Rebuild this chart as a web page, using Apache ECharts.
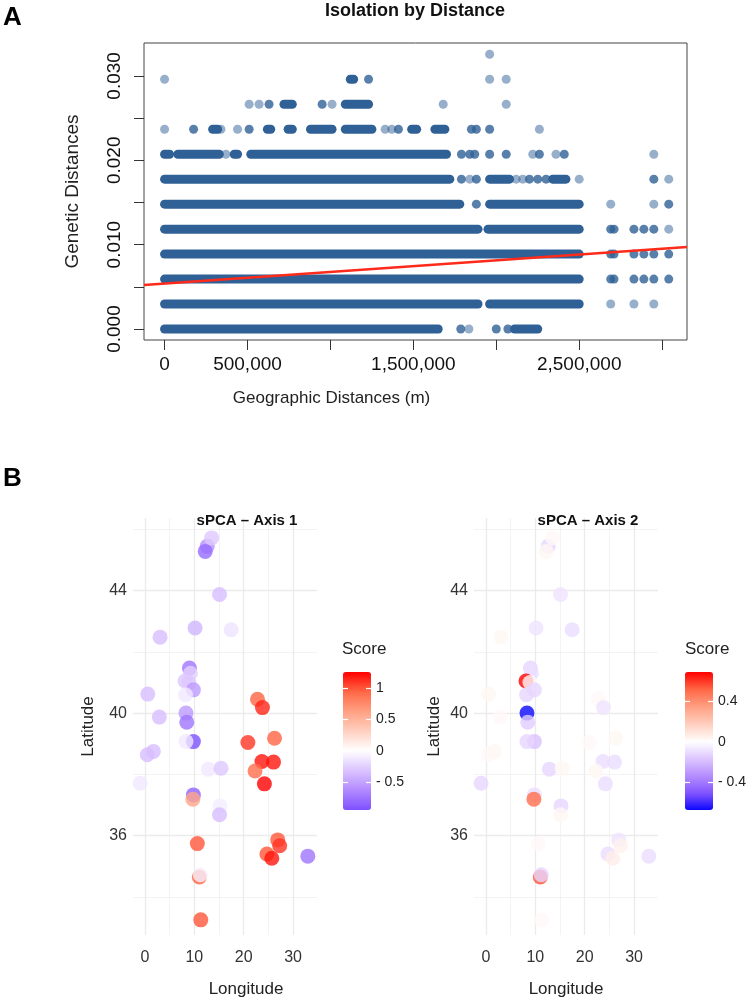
<!DOCTYPE html>
<html>
<head>
<meta charset="utf-8">
<title>Isolation by Distance / sPCA</title>
<script src="https://cdn.jsdelivr.net/npm/echarts@6/dist/echarts.min.js"></script>
<style>
  html, body { margin: 0; padding: 0; background: #fff; }
  #chart { width: 749px; height: 1003px; }
</style>
</head>
<body>
<div id="chart"></div>
<script>
// ---------- A : isolation by distance ----------
// genetic distance takes discrete values (one row per level)
var geneticLevels = [0, 0.00296, 0.00592, 0.00888, 0.01184, 0.0148, 0.01776,
                     0.02072, 0.02368, 0.02664, 0.0296, 0.03256];
// geographic distances below are in millions of metres
// dense stretches of overlapping points: [level, from, to]
var denseRuns = [
  [0, 0, 1.65], [0, 2.11, 2.25],
  [1, 0, 1.89], [1, 1.96, 2.50],
  [2, 0, 2.50],
  [3, 0, 2.50],
  [4, 0, 1.89], [4, 1.95, 2.50],
  [5, 0, 1.78], [5, 1.96, 2.50],
  [6, 0, 1.72], [6, 1.96, 2.08], [6, 2.34, 2.42],
  [7, 0, 0.03], [7, 0.08, 0.33], [7, 0.42, 0.44], [7, 0.52, 1.70],
  [8, 0.29, 0.32], [8, 0.62, 0.64], [8, 0.745, 0.77], [8, 0.88, 1.01],
  [8, 1.09, 1.25], [8, 1.49, 1.52], [8, 1.63, 1.69],
  [9, 0.72, 0.77], [9, 1.09, 1.23],
  [10, 1.12, 1.14]
];
// single opaque points: [distance, level]
var solidPoints = [
  [1.786, 0], [2.0, 0], [2.07, 0],
  [2.69, 2], [2.71, 2], [2.83, 2], [2.89, 2], [2.95, 2], [3.04, 2],
  [2.69, 3], [2.71, 3], [2.83, 3], [2.89, 3], [2.95, 3], [3.04, 3],
  [2.69, 4], [2.71, 4], [2.83, 4], [2.89, 4], [2.95, 4],
  [1.88, 5], [3.04, 5],
  [1.79, 6], [1.88, 6], [2.20, 6], [2.25, 6], [2.30, 6], [2.95, 6],
  [1.79, 7], [1.84, 7], [1.87, 7], [1.96, 7], [2.06, 7], [2.26, 7], [2.41, 7],
  [0.175, 8], [0.51, 8], [1.41, 8], [1.85, 8], [1.88, 8], [1.96, 8],
  [0.63, 9], [0.95, 9],
  [1.23, 10]
];
// single faint (semi transparent) points: [distance, level]
var faintPoints = [
  [1.835, 0],
  [2.69, 1], [2.83, 1], [2.95, 1],
  [3.04, 4],
  [2.69, 5], [2.95, 5],
  [1.84, 6], [2.12, 6], [2.16, 6], [2.50, 6], [3.04, 6],
  [0.37, 7], [2.22, 7], [2.36, 7], [2.95, 7],
  [0, 8], [0.34, 8], [0.44, 8], [1.33, 8], [1.37, 8], [2.26, 8],
  [0.51, 9], [0.57, 9], [1.01, 9], [1.68, 9], [2.06, 9],
  [0, 10], [1.96, 10], [2.06, 10],
  [1.96, 11]
];
// regression line end points [distance, genetic distance]
var fitLine = [[-0.124, 0.00521], [3.15, 0.00971]];
var distanceTicks = [0, 500000, 1000000, 1500000, 2000000, 2500000, 3000000];
var distanceLabels = [0, 500000, 1500000, 2500000];
var geneticTicks = [0, 0.005, 0.01, 0.015, 0.02, 0.025, 0.03];
var geneticLabels = [0, 0.01, 0.02, 0.03];

// ---------- B : sPCA scores per sampling site ----------
var siteLon = [12.6, 12.2, 13.5, 15.1, 10.15, 3.05, 17.46, 9.0, 9.2, 8.1,
               8.9, 9.8, 8.2, 0.55, 22.8, 23.8, 8.3, 8.46, 2.9, 9.8,
               8.3, 20.85, 26.25, 0.47, 1.7, 23.7, 26.05, 22.3, 24.2, -1.0,
               12.85, 15.4, 9.8, 9.7, 15.2, 15.1, 10.6, 11.0, 11.2, 11.3,
               26.9, 27.3, 24.7, 25.7, 33.0];
var siteLat = [45.45, 45.28, 45.72, 43.87, 42.78, 42.48, 42.72, 41.47, 41.3, 41.05,
               41.0, 40.76, 40.6, 40.62, 40.45, 40.18, 40.0, 39.7, 39.87, 39.07,
               39.07, 39.04, 39.18, 38.64, 38.75, 38.42, 38.4, 38.11, 37.69, 37.71,
               38.17, 38.2, 37.33, 37.19, 36.97, 36.68, 35.74, 34.65, 34.72, 33.25,
               35.86, 35.67, 35.40, 35.26, 35.33];
var axis1Score = [-0.60, -0.80, -0.30, -0.35, -0.40, -0.35, -0.15, -0.75, -0.25, -0.30,
                  -0.30, -0.55, -0.12, -0.35, 0.95, 1.15, -0.55, -0.75, -0.35, -0.95,
                  -0.12, 1.10, 0.95, -0.35, -0.35, 1.20, 1.20, 0.90, 1.26, -0.12,
                  -0.12, -0.30, -0.85, 0.60, -0.10, -0.35, 1.00, 0.95, -0.08, 1.00,
                  1.00, 1.10, 1.00, 1.20, -0.75];
var axis2Score = [-0.12, 0.03, 0.02, -0.08, -0.08, 0.03, -0.10, -0.12, -0.10, 0.69,
                  0.02, -0.12, -0.12, 0.03, 0.02, -0.08, -0.675, -0.15, 0.02, -0.18,
                  -0.12, 0.02, 0.03, 0.02, 0.03, -0.10, -0.10, 0.03, -0.10, -0.12,
                  -0.12, 0.03, -0.10, 0.50, -0.12, 0.03, 0.02, 0.55, -0.12, 0.02,
                  -0.08, 0.05, -0.10, 0.06, -0.10];
var lonMajor = [0, 10, 20, 30];
var lonMinor = [5, 15, 25];
var latMajor = [36, 40, 44];
var latMinor = [34, 38, 42, 46];
var score1Labels = [-0.5, 0, 0.5, 1];
var score2Labels = [-0.4, 0, 0.4];

// ---------- helpers ----------
var M = 1e6;
var BLUE_DOT = '#2F6096';
var FONT = 'Liberation Sans, Arial, sans-serif';

// blue - white - red diverging ramp, sampled in Lab space
var divergingStops = ['#0000FF', '#7E51FF', '#B38BFF', '#DCC4FF', '#FFFFFF',
                      '#FFCFBF', '#FFA083', '#FF6846', '#FF0000'];
function hexRgb(h) {
  return [parseInt(h.substr(1, 2), 16), parseInt(h.substr(3, 2), 16), parseInt(h.substr(5, 2), 16)];
}
function toHex(c) {
  return '#' + c.map(function (x) { var s = Math.round(x).toString(16); return s.length < 2 ? '0' + s : s; }).join('');
}
function divergingColor(v, lim) {
  var t = (Math.max(-1, Math.min(1, v / lim)) + 1) * 4;
  var i = Math.min(7, Math.floor(t)), f = t - i;
  var a = hexRgb(divergingStops[i]), b = hexRgb(divergingStops[i + 1]);
  return toHex([0, 1, 2].map(function (k) { return a[k] + (b[k] - a[k]) * f; }));
}
function ramp(min, max) {
  var lim = Math.max(-min, max), out = [];
  for (var k = 0; k <= 30; k++) out.push(divergingColor(min + (max - min) * k / 30, lim));
  return out;
}
function thousands(v) { return String(v).replace(/\B(?=(\d{3})+(?!\d))/g, ','); }
function scoreText(v) { return v < 0 ? '- ' + (-v) : String(v); }

var runData = denseRuns.map(function (r) { return [r[1] * M, r[2] * M, geneticLevels[r[0]]]; });
var solidData = solidPoints.map(function (p) { return [p[0] * M, geneticLevels[p[1]]]; });
var faintData = faintPoints.map(function (p) { return [p[0] * M, geneticLevels[p[1]]]; });
var fitData = fitLine.map(function (p) { return [p[0] * M, p[1]]; });

var map1Data = siteLon.map(function (lon, i) { return [lon, siteLat[i], axis1Score[i]]; });
var map2Data = siteLon.map(function (lon, i) { return [lon, siteLat[i], axis2Score[i]]; });
var s1Min = Math.min.apply(null, axis1Score), s1Max = Math.max.apply(null, axis1Score);
var s2Min = Math.min.apply(null, axis2Score), s2Max = Math.max.apply(null, axis2Score);

var LON_MIN = -2.44, LON_MAX = 34.86, LAT_MIN = 32.755, LAT_MAX = 46.37;
var NO_LINE = { show: false, onZero: false };

function mapXAxes(grid, namePad) {
  return [{
    gridIndex: grid, type: 'value', min: LON_MIN, max: LON_MAX,
    axisLine: NO_LINE,
    axisTick: { show: false, customValues: lonMajor },
    axisLabel: { customValues: lonMajor, fontSize: 16, color: '#333', margin: 15, fontFamily: FONT },
    splitLine: { show: true, lineStyle: { color: '#EBEBEB', width: 1.3 } },
    name: 'Longitude', nameLocation: 'middle', nameGap: 46,
    nameTextStyle: { fontSize: 17, color: '#222', fontFamily: FONT, padding: namePad }
  }, {
    gridIndex: grid, type: 'value', min: LON_MIN, max: LON_MAX, position: 'top',
    axisLine: NO_LINE,
    axisTick: { show: false, customValues: lonMinor },
    axisLabel: { show: false },
    splitLine: { show: true, lineStyle: { color: '#F0F0F0', width: 0.8 } }
  }];
}
function mapYAxes(grid, gap) {
  return [{
    gridIndex: grid, type: 'value', min: LAT_MIN, max: LAT_MAX,
    axisLine: NO_LINE,
    axisTick: { show: false, customValues: latMajor },
    axisLabel: { customValues: latMajor, fontSize: 16, color: '#333', margin: 6, fontFamily: FONT },
    splitLine: { show: true, lineStyle: { color: '#EBEBEB', width: 1.3 } },
    name: 'Latitude', nameLocation: 'middle', nameGap: gap,
    nameTextStyle: { fontSize: 17, color: '#222', fontFamily: FONT }
  }, {
    gridIndex: grid, type: 'value', min: LAT_MIN, max: LAT_MAX, position: 'right',
    axisLine: NO_LINE,
    axisTick: { show: false, customValues: latMinor },
    axisLabel: { show: false },
    splitLine: { show: true, lineStyle: { color: '#F0F0F0', width: 0.8 } }
  }];
}
function legendYAxes(grid, min, max, labels) {
  var tick = { customValues: labels, inside: true, length: 5, lineStyle: { color: '#fff', width: 1.2 } };
  return [{
    gridIndex: grid, type: 'value', min: min, max: max, position: 'right', z: 10,
    axisLine: NO_LINE, axisTick: tick,
    axisLabel: { customValues: labels, margin: 5, fontSize: 14, color: '#222', fontFamily: FONT, formatter: scoreText },
    splitLine: { show: false }
  }, {
    gridIndex: grid, type: 'value', min: min, max: max, position: 'left', z: 10,
    axisLine: NO_LINE, axisTick: tick,
    axisLabel: { show: false }, splitLine: { show: false }
  }];
}

var chart = echarts.init(document.getElementById('chart'));

chart.setOption({
  animation: false,
  backgroundColor: '#fff',
  textStyle: { fontFamily: FONT },
  title: [
    { text: 'A', left: 3, top: 5, padding: 0, textStyle: { fontSize: 26, fontWeight: 'bold', color: '#000' } },
    { text: 'Isolation by Distance', left: 415, top: 2, padding: 0, textAlign: 'center',
      textStyle: { fontSize: 18, fontWeight: 'bold', color: '#111' } },
    { text: 'B', left: 3, top: 466, padding: 0, textStyle: { fontSize: 26, fontWeight: 'bold', color: '#000' } },
    { text: 'sPCA \u2013 Axis 1', left: 247, top: 513, padding: 0, textAlign: 'center',
      textStyle: { fontSize: 15, fontWeight: 'bold', color: '#111' } },
    { text: 'sPCA \u2013 Axis 2', left: 588, top: 513, padding: 0, textAlign: 'center',
      textStyle: { fontSize: 15, fontWeight: 'bold', color: '#111' } },
    { text: 'Score', left: 342, top: 641, padding: 0, textStyle: { fontSize: 17, fontWeight: 'normal', color: '#222' } },
    { text: 'Score', left: 685, top: 641, padding: 0, textStyle: { fontSize: 17, fontWeight: 'normal', color: '#222' } }
  ],
  grid: [
    { left: 144, top: 43, width: 543, height: 297, show: true, borderColor: '#444', borderWidth: 1 },
    { left: 133, top: 518, width: 184, height: 417 },
    { left: 474, top: 518, width: 184, height: 417 },
    { left: 343, top: 672, width: 28, height: 138 },
    { left: 685, top: 672, width: 28, height: 138 }
  ],
  xAxis: [{
    gridIndex: 0, type: 'value', min: -124000, max: 3150000,
    axisLine: NO_LINE,
    axisTick: { customValues: distanceTicks, length: 10, lineStyle: { color: '#333' } },
    axisLabel: { customValues: distanceLabels, margin: 15, fontSize: 19, color: '#111', formatter: thousands },
    splitLine: { show: false },
    name: 'Geographic Distances (m)', nameLocation: 'middle', nameGap: 50,
    nameTextStyle: { fontSize: 17, color: '#222', padding: [0, 168, 0, 0] }
  }].concat(mapXAxes(1, [0, 0, 0, 42]), mapXAxes(2, [0, 0, 0, 0]), [
    { gridIndex: 3, type: 'value', show: false },
    { gridIndex: 4, type: 'value', show: false }
  ]),
  yAxis: [{
    gridIndex: 0, type: 'value', min: -0.0013, max: 0.0339,
    axisLine: NO_LINE,
    axisTick: { customValues: geneticTicks, length: 10, lineStyle: { color: '#333' } },
    axisLabel: { customValues: geneticLabels, rotate: 90, margin: 20, fontSize: 19, color: '#111',
      formatter: function (v) { return v.toFixed(3); } },
    splitLine: { show: false },
    name: 'Genetic Distances', nameLocation: 'middle', nameGap: 62,
    nameTextStyle: { fontSize: 19, color: '#222' }
  }].concat(mapYAxes(1, 36), mapYAxes(2, 31),
            legendYAxes(3, s1Min, s1Max, score1Labels),
            legendYAxes(4, s2Min, s2Max, score2Labels)),
  visualMap: [{
    type: 'continuous', seriesIndex: 4, dimension: 2, min: s1Min, max: s1Max,
    inRange: { color: ramp(s1Min, s1Max) }, calculable: false, hoverLink: false,
    left: 343, top: 672, itemWidth: 28, itemHeight: 138, padding: 0
  }, {
    type: 'continuous', seriesIndex: 5, dimension: 2, min: s2Min, max: s2Max,
    inRange: { color: ramp(s2Min, s2Max) }, calculable: false, hoverLink: false,
    left: 685, top: 672, itemWidth: 28, itemHeight: 138, padding: 0
  }],
  series: [{
    type: 'custom', xAxisIndex: 0, yAxisIndex: 0,
    encode: { x: [0, 1], y: 2 },
    data: runData,
    renderItem: function (params, api) {
      var a = api.coord([api.value(0), api.value(2)]);
      var b = api.coord([api.value(1), api.value(2)]);
      return {
        type: 'line',
        shape: { x1: a[0], y1: a[1], x2: b[0], y2: b[1] },
        style: { stroke: BLUE_DOT, lineWidth: 9, lineCap: 'round' }
      };
    }
  }, {
    type: 'scatter', xAxisIndex: 0, yAxisIndex: 0, data: solidData,
    symbolSize: 9, itemStyle: { color: BLUE_DOT }
  }, {
    type: 'scatter', xAxisIndex: 0, yAxisIndex: 0, data: faintData,
    symbolSize: 9, itemStyle: { color: BLUE_DOT, opacity: 0.5 }
  }, {
    type: 'line', xAxisIndex: 0, yAxisIndex: 0, data: fitData,
    symbol: 'none', lineStyle: { color: '#FF2A1A', width: 2.5 }, z: 5
  }, {
    type: 'scatter', xAxisIndex: 1, yAxisIndex: 1, data: map1Data,
    symbolSize: 15
  }, {
    type: 'scatter', xAxisIndex: 3, yAxisIndex: 3, data: map2Data,
    symbolSize: 15
  }]
});
</script>
</body>
</html>
